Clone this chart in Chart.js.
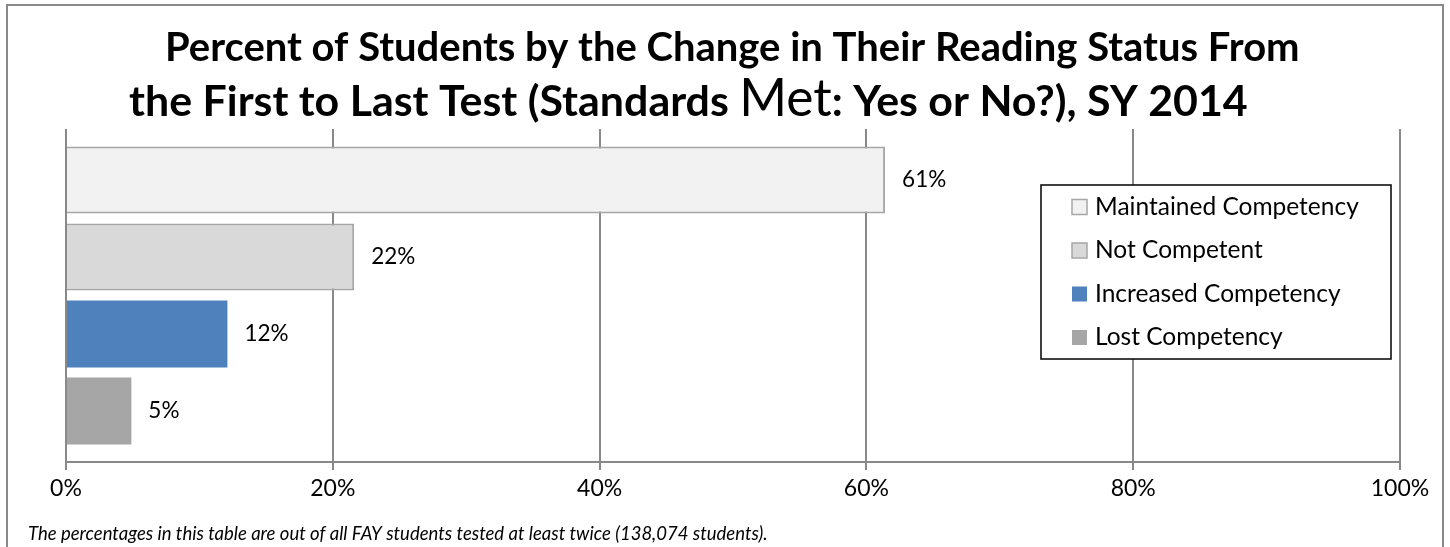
<!DOCTYPE html>
<html>
<head>
<meta charset="utf-8">
<script src="https://cdn.jsdelivr.net/npm/chart.js@4.4.1/dist/chart.umd.min.js"></script>
<style>
  html, body { margin: 0; padding: 0; background: #fff; }
  #wrap { position: relative; width: 1450px; height: 547px; overflow: hidden; }
  #frame { position: absolute; left: 6px; top: 4px; width: 1438px; height: 600px; border: 2px solid #898989; box-sizing: border-box; }
  #chart { position: absolute; left: 0; top: 0; }
</style>
</head>
<body>
<div id="wrap">
  <div id="frame"></div>
  <canvas id="chart" width="1450" height="547"></canvas>
</div>
<script>
// Данные
const seriesLabels = ['Maintained Competency', 'Not Competent', 'Increased Competency', 'Lost Competency'];
const seriesValues = [61.4, 21.6, 12.1, 4.9];
const seriesFill = ['#f2f2f2', '#d9d9d9', '#4f81bd', '#a6a6a6'];
const seriesBorder = ['#a6a6a6', '#a6a6a6', '#4f81bd', '#a6a6a6'];
const categories = [''];
const xTickStep = 20;
const titleLine1 = 'Percent of Students by the Change in Their Reading Status From';
const titleLine2 = ['the First to Last Test (Standards ', 'Met', ': Yes or No?), SY 2014'];
const footnote = 'The percentages in this table are out of all FAY students tested at least twice (138,074 students).';

const FONT = 'Lato, "Open Sans", sans-serif';

// рисует строку из кусков, подгоняя размер шрифта под нужную ширину
function drawFitted(ctx, parts, left, right, baseline) {
    const base = 36;
    const fontFor = (p, s) => p.big ? `normal ${s * 1.2}px ${FONT}` : `bold ${s}px ${FONT}`;
    let total = 0;
    parts.forEach(p => { ctx.font = fontFor(p, base); total += ctx.measureText(p.t).width; });
    const size = base * (right - left) / total;
    let x = left;
    parts.forEach(p => {
        ctx.font = fontFor(p, size);
        ctx.fillText(p.t, x, baseline);
        x += ctx.measureText(p.t).width;
    });
}

// Заголовок (с крупным "Met") и сноска
const titlePlugin = {
    id: 'titlePlugin',
    afterDraw(chart) {
        const ctx = chart.ctx;
        ctx.save();
        ctx.fillStyle = '#000';
        ctx.textBaseline = 'alphabetic';
        ctx.textAlign = 'left';
        drawFitted(ctx, [{ t: titleLine1 }], 165, 1300, 61);
        drawFitted(ctx, titleLine2.map((t, i) => ({ t: t, big: i === 1 })), 129, 1248, 116);

        ctx.font = `italic 18.5px ${FONT}`;
        ctx.fillText(footnote, 28, 540);
        ctx.restore();
    }
};

// Подписи значений и легенда внутри области графика
const labelsAndLegend = {
    id: 'labelsAndLegend',
    afterDatasetsDraw(chart) {
        const ctx = chart.ctx;
        ctx.save();
        ctx.font = `22.5px ${FONT}`;
        ctx.fillStyle = '#000';
        ctx.textBaseline = 'middle';
        ctx.textAlign = 'left';
        chart.data.datasets.forEach((ds, i) => {
            const bar = chart.getDatasetMeta(i).data[0];
            ctx.fillText(Math.round(ds.data[0]) + '%', bar.x + 17, bar.y);
        });

        // легенда
        const lx = 1041, ly = 185, lw = 350, lh = 174;
        ctx.fillStyle = '#fff';
        ctx.fillRect(lx, ly, lw, lh);
        ctx.strokeStyle = '#000';
        ctx.lineWidth = 1.5;
        ctx.strokeRect(lx, ly, lw, lh);
        ctx.font = `24.5px ${FONT}`;
        chart.data.datasets.forEach((ds, i) => {
            const cy = 207 + i * 43.5;
            ctx.fillStyle = ds.backgroundColor;
            ctx.fillRect(1072, cy - 7.5, 15, 15);
            if (ds.borderWidth) {
                ctx.strokeStyle = ds.borderColor;
                ctx.lineWidth = 1.5;
                ctx.strokeRect(1072, cy - 7.5, 15, 15);
            }
            ctx.fillStyle = '#000';
            ctx.fillText(ds.label, 1095, cy);
        });
        ctx.restore();
    }
};

new Chart(document.getElementById('chart'), {
    type: 'bar',
    data: {
        labels: categories,
        datasets: seriesLabels.map((label, i) => ({
            label: label,
            data: [seriesValues[i]],
            backgroundColor: seriesFill[i],
            borderColor: seriesBorder[i],
            borderWidth: i < 2 ? 2 : 0,
            categoryPercentage: 0.925,
            barPercentage: 0.87
        }))
    },
    options: {
        indexAxis: 'y',
        responsive: false,
        animation: false,
        layout: {
            padding: { left: 66, right: 50, top: 129, bottom: 45 }
        },
        plugins: {
            legend: { display: false },
            title: { display: false },
            tooltip: { enabled: false }
        },
        scales: {
            x: {
                min: 0,
                max: 100,
                ticks: {
                    stepSize: xTickStep,
                    callback: v => v + '%',
                    color: '#000',
                    padding: 5,
                    font: { family: FONT, size: 23 }
                },
                grid: {
                    color: '#898989',
                    lineWidth: 2,
                    tickLength: 8
                },
                border: { color: '#898989', width: 2 },
                afterFit: s => { s.height = 40; }
            },
            y: {
                display: false
            }
        }
    },
    plugins: [titlePlugin, labelsAndLegend]
});
</script>
</body>
</html>
